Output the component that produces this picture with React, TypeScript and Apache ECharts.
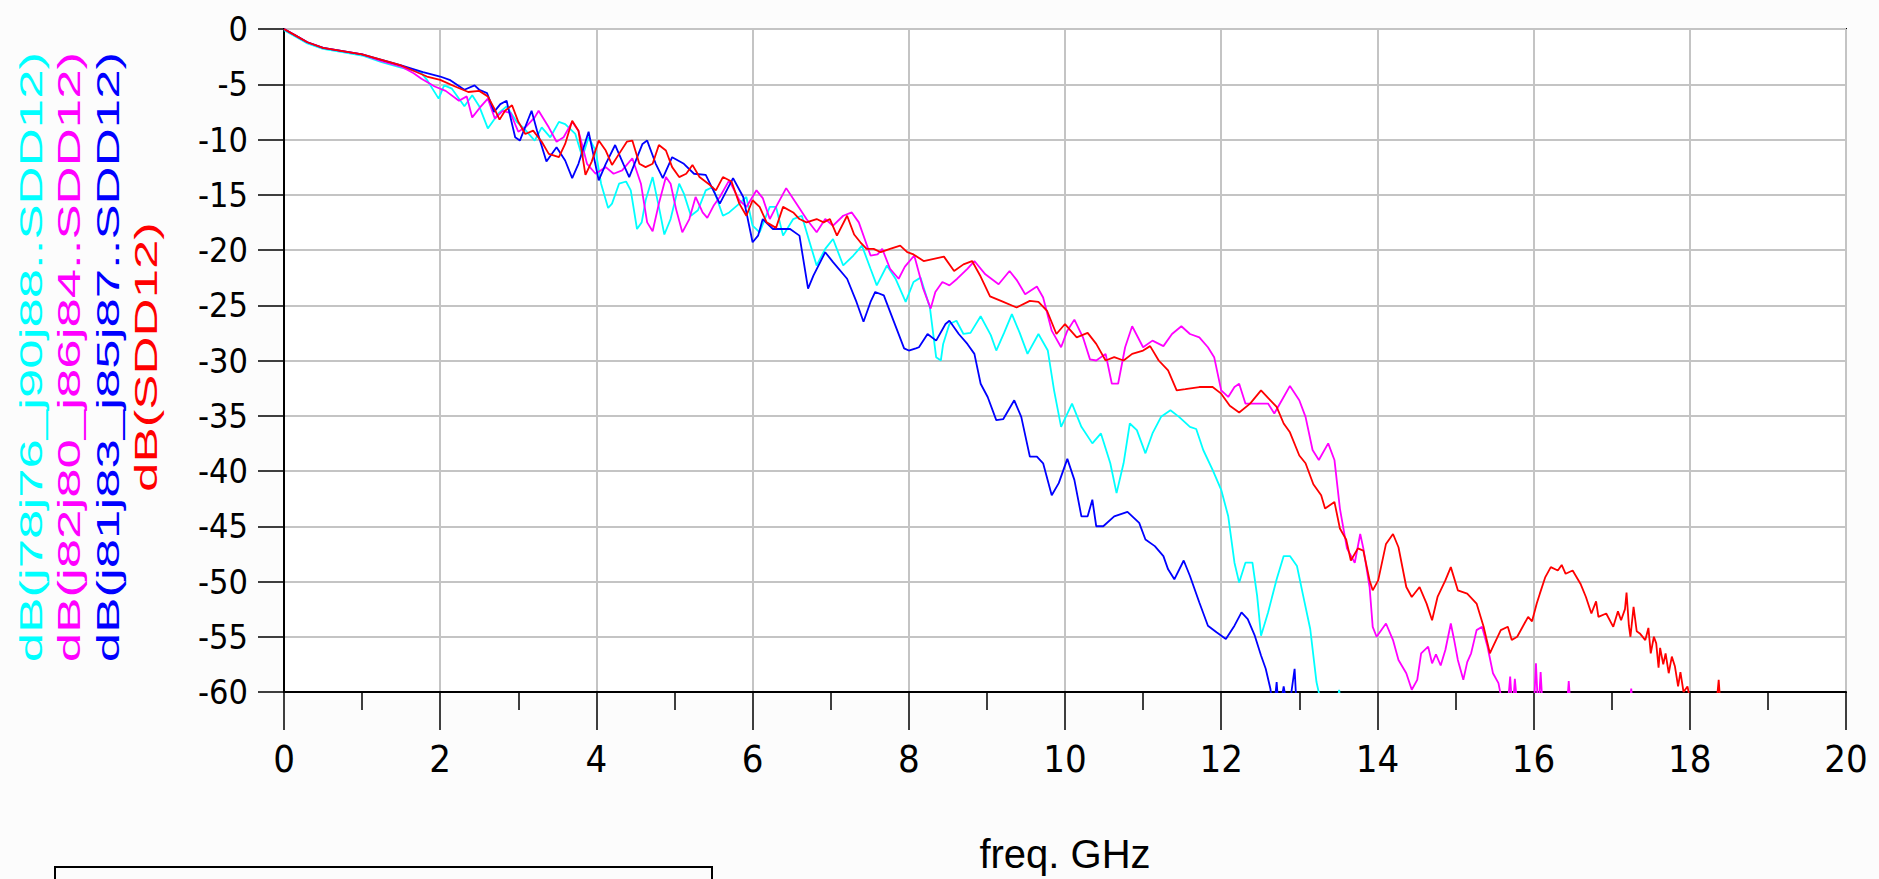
import { useEffect, useRef } from "react";
import * as echarts from "echarts";

// ---------- data ----------
const xTickValues = [0, 2, 4, 6, 8, 10, 12, 14, 16, 18, 20];
const yTickValues = [0, -5, -10, -15, -20, -25, -30, -35, -40, -45, -50, -55, -60];

const seriesNames = [
  "dB(j78j76_j90j88..SDD12)",
  "dB(j82j80_j86j84..SDD12)",
  "dB(j81j83_j85j87..SDD12)",
  "dB(SDD12)",
];
const seriesColors = ["#00ffff", "#ff00ff", "#0000ff", "#ff0000"];

const cyanFreq = [0, 0.15, 0.3, 0.5, 0.75, 1.0, 1.25, 1.5, 1.75, 1.83, 1.98, 2.05, 2.15, 2.31, 2.41, 2.5, 2.61, 2.75, 2.85, 2.98, 3.06, 3.21, 3.3, 3.41, 3.52, 3.6, 3.73, 3.82, 3.9, 3.99, 4.06, 4.15, 4.2, 4.29, 4.38, 4.44, 4.52, 4.58, 4.63, 4.72, 4.8, 4.87, 4.95, 5.06, 5.12, 5.21, 5.3, 5.4, 5.49, 5.62, 5.7, 5.83, 5.92, 6.0, 6.09, 6.22, 6.3, 6.39, 6.52, 6.63, 6.73, 6.82, 6.93, 7.03, 7.16, 7.29, 7.4, 7.51, 7.59, 7.72, 7.83, 7.96, 8.06, 8.15, 8.27, 8.35, 8.41, 8.44, 8.52, 8.61, 8.7, 8.79, 8.92, 9.05, 9.12, 9.22, 9.32, 9.42, 9.52, 9.66, 9.78, 9.86, 9.95, 10.09, 10.21, 10.35, 10.46, 10.58, 10.66, 10.75, 10.83, 10.92, 11.03, 11.12, 11.23, 11.35, 11.46, 11.6, 11.68, 11.77, 11.89, 12.0, 12.09, 12.17, 12.23, 12.31, 12.4, 12.46, 12.51, 12.6, 12.71, 12.8, 12.88, 12.97, 13.05, 13.14, 13.22, 13.28, 13.45, 13.51, 13.56];
const cyanDb = [-0.1, -0.7, -1.3, -1.8, -2.1, -2.4, -3.0, -3.5, -3.9, -4.6, -6.3, -5.1, -5.4, -7.0, -6.0, -7.0, -9.0, -7.6, -7.0, -8.4, -8.9, -10.1, -8.9, -9.8, -8.4, -8.6, -9.5, -11.6, -9.8, -11.0, -14.0, -16.2, -15.8, -14.0, -13.8, -14.6, -18.1, -17.5, -15.5, -13.4, -16.1, -18.6, -17.2, -14.0, -14.9, -16.9, -16.4, -14.6, -14.3, -16.9, -16.6, -15.8, -15.2, -17.8, -18.4, -16.1, -16.1, -18.7, -17.2, -16.9, -19.3, -21.4, -19.9, -19.0, -21.4, -20.5, -19.6, -21.7, -23.2, -21.4, -22.6, -24.7, -22.9, -22.5, -25.2, -29.7, -30.0, -28.5, -26.7, -26.4, -27.6, -27.5, -26.0, -27.7, -29.1, -27.5, -25.8, -27.5, -29.4, -27.6, -29.1, -32.7, -36.0, -33.9, -36.0, -37.5, -36.6, -39.3, -42.0, -39.3, -35.7, -36.3, -38.4, -36.6, -35.1, -34.5, -35.1, -36.0, -36.2, -38.1, -39.9, -41.7, -44.1, -48.3, -50.1, -48.3, -48.3, -51.3, -54.9, -52.8, -49.8, -47.7, -47.7, -48.6, -51.3, -54.3, -59.1, -61.0, -63.0, -59.8, -63.0];

const magentaFreq = [0, 0.15, 0.3, 0.5, 0.75, 1.0, 1.25, 1.5, 1.66, 1.76, 1.93, 2.07, 2.24, 2.34, 2.41, 2.51, 2.61, 2.7, 2.8, 2.9, 3.0, 3.09, 3.21, 3.26, 3.39, 3.49, 3.58, 3.69, 3.77, 3.88, 3.99, 4.12, 4.22, 4.33, 4.46, 4.57, 4.65, 4.72, 4.8, 4.89, 4.95, 5.02, 5.1, 5.19, 5.27, 5.36, 5.42, 5.5, 5.58, 5.7, 5.83, 5.92, 6.05, 6.13, 6.22, 6.3, 6.43, 6.56, 6.69, 6.82, 6.93, 7.03, 7.16, 7.27, 7.36, 7.51, 7.6, 7.66, 7.76, 7.87, 7.95, 8.07, 8.18, 8.28, 8.34, 8.43, 8.52, 8.62, 8.75, 8.84, 8.98, 9.15, 9.29, 9.38, 9.49, 9.64, 9.72, 9.83, 9.95, 10.03, 10.12, 10.23, 10.32, 10.4, 10.52, 10.6, 10.68, 10.77, 10.86, 11.0, 11.12, 11.26, 11.37, 11.49, 11.6, 11.72, 11.83, 11.91, 12.0, 12.09, 12.17, 12.23, 12.31, 12.46, 12.6, 12.68, 12.8, 12.88, 13.0, 13.08, 13.17, 13.25, 13.37, 13.45, 13.52, 13.61, 13.71, 13.78, 13.82, 13.9, 13.94, 13.99, 14.11, 14.2, 14.27, 14.37, 14.44, 14.51, 14.56, 14.65, 14.7, 14.75, 14.81, 14.87, 14.94, 14.98, 15.03, 15.1, 15.15, 15.2, 15.27, 15.34, 15.41, 15.48, 15.55, 15.6, 15.66, 15.7, 15.73, 15.76, 15.8, 16.0, 16.03, 16.06, 16.09, 16.12, 16.42, 16.45, 16.48, 17.22, 17.25, 17.28];
const magentaDb = [0, -0.6, -1.2, -1.7, -2.0, -2.3, -2.9, -3.4, -4.0, -4.5, -5.2, -5.6, -6.5, -6.1, -8.0, -7.1, -6.3, -8.1, -7.4, -7.6, -9.3, -8.9, -8.0, -7.4, -8.9, -10.2, -9.8, -8.4, -9.2, -12.2, -13.1, -12.5, -13.1, -12.8, -11.7, -14.0, -17.5, -18.3, -15.8, -13.4, -14.0, -16.3, -18.4, -17.2, -15.2, -16.6, -17.1, -16.0, -15.2, -13.7, -15.5, -16.1, -14.6, -15.3, -17.2, -16.1, -14.4, -15.8, -17.2, -18.4, -17.2, -17.8, -16.9, -16.6, -17.5, -20.5, -20.4, -19.9, -21.7, -22.6, -21.5, -20.5, -23.4, -25.3, -23.8, -22.9, -23.2, -22.6, -21.7, -21.0, -22.2, -23.1, -21.9, -22.7, -24.0, -23.3, -24.3, -27.3, -28.8, -27.3, -26.3, -27.9, -29.9, -30.0, -29.4, -32.1, -32.1, -28.8, -26.9, -28.8, -28.2, -28.7, -27.6, -26.9, -27.6, -27.9, -28.8, -29.7, -32.7, -33.3, -32.4, -32.1, -33.9, -33.9, -33.9, -34.8, -33.3, -32.3, -33.6, -35.1, -38.1, -39.0, -37.5, -39.0, -43.4, -47.0, -48.3, -45.7, -47.0, -50.5, -54.1, -55.0, -53.8, -55.3, -57.1, -58.3, -59.8, -58.9, -56.5, -55.9, -57.4, -56.6, -57.6, -56.2, -53.8, -55.2, -57.1, -58.9, -57.3, -56.5, -54.4, -54.1, -55.9, -58.3, -59.2, -61.0, -62.0, -58.6, -62.0, -58.8, -62.0, -62.0, -57.4, -62.0, -58.2, -62.0, -62.0, -59.0, -62.0, -62.0, -59.7, -62.0];

const blueFreq = [0, 0.15, 0.3, 0.5, 0.75, 1.0, 1.25, 1.5, 1.78, 2.0, 2.12, 2.31, 2.44, 2.5, 2.6, 2.69, 2.77, 2.85, 2.96, 3.02, 3.17, 3.24, 3.36, 3.49, 3.6, 3.69, 3.77, 3.9, 4.03, 4.12, 4.24, 4.35, 4.42, 4.59, 4.65, 4.76, 4.85, 4.97, 5.12, 5.25, 5.4, 5.58, 5.75, 5.88, 6.0, 6.07, 6.13, 6.26, 6.48, 6.6, 6.71, 6.78, 6.93, 7.03, 7.21, 7.33, 7.42, 7.51, 7.57, 7.68, 7.81, 7.94, 8.0, 8.09, 8.13, 8.24, 8.35, 8.47, 8.52, 8.64, 8.75, 8.84, 8.92, 9.01, 9.12, 9.21, 9.35, 9.44, 9.55, 9.64, 9.72, 9.83, 9.92, 10.03, 10.12, 10.21, 10.29, 10.35, 10.4, 10.49, 10.63, 10.8, 10.95, 11.03, 11.15, 11.26, 11.32, 11.4, 11.52, 11.6, 11.72, 11.83, 11.94, 12.06, 12.17, 12.26, 12.34, 12.43, 12.51, 12.57, 12.63, 12.67, 12.71, 12.74, 12.8, 12.86, 12.94, 12.97, 13.02];
const blueDb = [0, -0.6, -1.2, -1.7, -2.0, -2.3, -2.8, -3.3, -3.9, -4.3, -4.6, -5.5, -5.1, -5.5, -5.8, -7.5, -6.8, -6.5, -9.8, -10.1, -7.4, -9.2, -12.0, -10.7, -11.9, -13.5, -12.2, -9.3, -13.7, -12.2, -10.5, -12.3, -13.4, -10.4, -10.1, -12.2, -13.5, -11.6, -12.2, -13.1, -13.2, -15.8, -13.5, -15.2, -19.3, -18.7, -17.2, -18.1, -18.1, -18.7, -23.5, -22.3, -20.2, -21.1, -22.6, -24.7, -26.5, -24.7, -23.8, -24.1, -26.5, -28.9, -29.1, -28.9, -28.8, -27.6, -28.2, -26.7, -26.4, -27.6, -28.5, -29.4, -32.1, -33.3, -35.4, -35.3, -33.6, -35.1, -38.7, -38.7, -39.3, -42.2, -41.1, -38.9, -40.8, -44.1, -44.1, -42.6, -45.0, -45.0, -44.1, -43.7, -44.7, -46.2, -46.8, -47.7, -48.9, -49.8, -48.1, -49.5, -51.9, -54.0, -54.6, -55.2, -54.0, -52.8, -53.4, -54.9, -56.7, -57.9, -59.7, -62.0, -59.1, -62.0, -59.5, -62.0, -57.9, -62.0, -63.0];

const redFreq = [0, 0.15, 0.3, 0.5, 0.75, 1.0, 1.25, 1.5, 1.83, 2.0, 2.19, 2.36, 2.5, 2.61, 2.7, 2.76, 2.83, 2.92, 3.0, 3.09, 3.19, 3.3, 3.39, 3.52, 3.6, 3.69, 3.77, 3.86, 3.94, 4.03, 4.12, 4.2, 4.29, 4.39, 4.46, 4.55, 4.63, 4.72, 4.8, 4.89, 4.97, 5.06, 5.15, 5.23, 5.32, 5.45, 5.53, 5.62, 5.73, 5.83, 5.92, 6.0, 6.09, 6.18, 6.3, 6.39, 6.52, 6.6, 6.69, 6.82, 6.91, 6.99, 7.08, 7.21, 7.3, 7.38, 7.46, 7.55, 7.64, 7.76, 7.89, 7.98, 8.06, 8.19, 8.32, 8.45, 8.58, 8.7, 8.81, 8.92, 9.04, 9.18, 9.38, 9.55, 9.66, 9.77, 9.89, 10.0, 10.15, 10.29, 10.4, 10.52, 10.63, 10.75, 10.86, 11.0, 11.09, 11.2, 11.32, 11.43, 11.54, 11.72, 11.89, 12.0, 12.11, 12.23, 12.37, 12.51, 12.63, 12.71, 12.8, 12.88, 13.0, 13.08, 13.18, 13.28, 13.33, 13.45, 13.52, 13.6, 13.66, 13.75, 13.82, 13.9, 13.94, 14.01, 14.11, 14.2, 14.27, 14.37, 14.44, 14.54, 14.63, 14.7, 14.77, 14.87, 14.94, 15.03, 15.15, 15.27, 15.36, 15.44, 15.48, 15.58, 15.67, 15.72, 15.79, 15.86, 15.93, 15.98, 16.04, 16.08, 16.15, 16.22, 16.31, 16.36, 16.41, 16.5, 16.6, 16.67, 16.74, 16.8, 16.83, 16.93, 17.02, 17.08, 17.12, 17.17, 17.19, 17.22, 17.24, 17.28, 17.32, 17.36, 17.43, 17.47, 17.5, 17.54, 17.57, 17.6, 17.62, 17.66, 17.69, 17.73, 17.77, 17.81, 17.85, 17.88, 17.92, 17.97, 18.0, 18.05, 18.33, 18.37, 18.4];
const redDb = [0, -0.6, -1.2, -1.7, -2.0, -2.3, -2.8, -3.3, -4.3, -4.6, -5.2, -5.7, -5.6, -6.1, -7.3, -8.2, -7.4, -6.9, -8.4, -9.5, -9.2, -10.2, -11.3, -11.6, -10.4, -8.3, -9.2, -13.2, -12.0, -10.1, -11.0, -12.3, -11.3, -10.2, -10.1, -12.2, -12.5, -12.2, -10.5, -11.0, -12.5, -13.4, -13.1, -12.3, -13.4, -14.1, -14.6, -13.4, -13.8, -15.8, -16.9, -15.5, -16.1, -17.5, -18.0, -16.1, -16.6, -17.2, -17.5, -17.2, -17.5, -17.2, -18.7, -16.9, -18.6, -19.3, -19.9, -19.9, -20.2, -19.9, -19.6, -20.2, -20.4, -21.0, -20.8, -20.6, -21.9, -21.3, -21.0, -22.4, -24.2, -24.6, -25.2, -24.6, -24.7, -25.5, -27.6, -26.7, -27.9, -27.5, -28.5, -30.0, -29.7, -30.0, -29.4, -29.1, -28.7, -30.0, -30.9, -32.7, -32.6, -32.4, -32.4, -33.0, -34.1, -34.7, -33.9, -32.7, -33.6, -34.2, -35.7, -36.5, -38.6, -39.3, -41.2, -42.2, -43.4, -42.8, -45.2, -46.2, -48.1, -47.0, -47.2, -49.9, -50.8, -49.9, -46.6, -45.7, -46.9, -50.5, -51.4, -50.5, -52.0, -53.5, -51.4, -49.9, -48.7, -50.8, -51.1, -52.0, -54.1, -56.5, -55.9, -54.4, -54.1, -55.3, -55.0, -54.1, -53.2, -53.6, -52.0, -51.1, -49.6, -48.7, -49.0, -48.5, -49.3, -49.0, -50.2, -51.4, -52.9, -51.8, -53.2, -52.9, -54.1, -52.7, -53.5, -52.5, -51.0, -54.0, -55.0, -52.3, -54.5, -54.7, -55.3, -54.2, -56.5, -55.0, -55.6, -57.8, -56.0, -57.5, -56.5, -58.3, -56.8, -57.7, -59.5, -58.2, -60.0, -59.5, -60.5, -62.0, -62.0, -58.9, -62.0];

const seriesFreqs = [cyanFreq, magentaFreq, blueFreq, redFreq];
const seriesDbs = [cyanDb, magentaDb, blueDb, redDb];

const xAxisName = "freq. GHz";

// ---------- styling / layout ----------
const NARROW = "'Liberation Sans Narrow', 'Arial Narrow', 'DejaVu Sans Condensed', 'Liberation Sans', Arial, sans-serif";
const SANS = "'Liberation Sans', Arial, sans-serif";
const legendCenters = [31, 69, 107.5, 146];

export default function App() {
  const ref = useRef<HTMLDivElement>(null);

  useEffect(() => {
    if (!ref.current) return;
    const chart = echarts.init(ref.current, null, { renderer: "svg" });

    const series = seriesNames.map((name, i) => ({
      name,
      type: "line",
      data: seriesFreqs[i].map((f, k) => [f, seriesDbs[i][k]]),
      showSymbol: false,
      symbol: "none",
      clip: true,
      lineStyle: { color: seriesColors[i], width: 1.8 },
      itemStyle: { color: seriesColors[i] },
      z: 2 + i,
    }));

    const legendTexts = seriesNames.map((t, i) => ({
      type: "text",
      x: legendCenters[i],
      y: 357,
      rotation: Math.PI / 2,
      scaleX: 1.65,
      scaleY: 1,
      style: {
        text: t,
        fill: seriesColors[i],
        font: `32px ${SANS}`,
        align: "center",
        verticalAlign: "middle",
        textAlign: "center",
        textVerticalAlign: "middle",
      },
    }));

    chart.setOption({
      animation: false,
      backgroundColor: "#fcfcfc",
      grid: {
        left: 284,
        top: 29,
        right: 33,
        bottom: 184,
        containLabel: false,
        show: true,
        backgroundColor: "#ffffff",
        borderColor: "#000000",
        borderWidth: 2,
      },
      xAxis: {
        type: "value",
        min: xTickValues[0],
        max: xTickValues[xTickValues.length - 1],
        interval: 2,
        name: xAxisName,
        nameLocation: "middle",
        nameGap: 142,
        nameTextStyle: { fontFamily: SANS, fontSize: 40, color: "#000" },
        axisLine: { show: true, onZero: false, lineStyle: { color: "#000", width: 2 } },
        axisTick: { show: true, inside: false, length: 38, lineStyle: { color: "#000", width: 1.5 } },
        minorTick: { show: true, splitNumber: 2, length: 18, lineStyle: { color: "#000", width: 1.5 } },
        splitLine: { show: true, lineStyle: { color: "#c4c4c4", width: 2 } },
        minorSplitLine: { show: false },
        axisLabel: {
          show: true,
          fontFamily: NARROW,
          fontSize: 38,
          color: "#000",
          margin: 48,
          showMinLabel: true,
          showMaxLabel: true,
          hideOverlap: false,
        },
      },
      yAxis: {
        type: "value",
        min: yTickValues[yTickValues.length - 1],
        max: yTickValues[0],
        interval: 5,
        axisLine: { show: true, onZero: false, lineStyle: { color: "#000", width: 2 } },
        axisTick: { show: true, inside: false, length: 26, lineStyle: { color: "#000", width: 1.5 } },
        splitLine: { show: true, lineStyle: { color: "#c4c4c4", width: 2 } },
        axisLabel: {
          show: true,
          fontFamily: NARROW,
          fontSize: 34,
          color: "#000",
          margin: 36,
          showMinLabel: true,
          showMaxLabel: true,
          hideOverlap: false,
        },
      },
      series,
      graphic: [
        ...legendTexts,
        {
          type: "rect",
          shape: { x: 55, y: 867, width: 657, height: 30 },
          style: { fill: "#fcfcfc", stroke: "#000", lineWidth: 2 },
          z: 10,
        },
      ],
    });

    return () => {
      chart.dispose();
    };
  }, []);

  return (
    <div
      ref={ref}
      style={{ position: "fixed", left: 0, top: 0, width: 1879, height: 879, background: "#fcfcfc" }}
    />
  );
}
